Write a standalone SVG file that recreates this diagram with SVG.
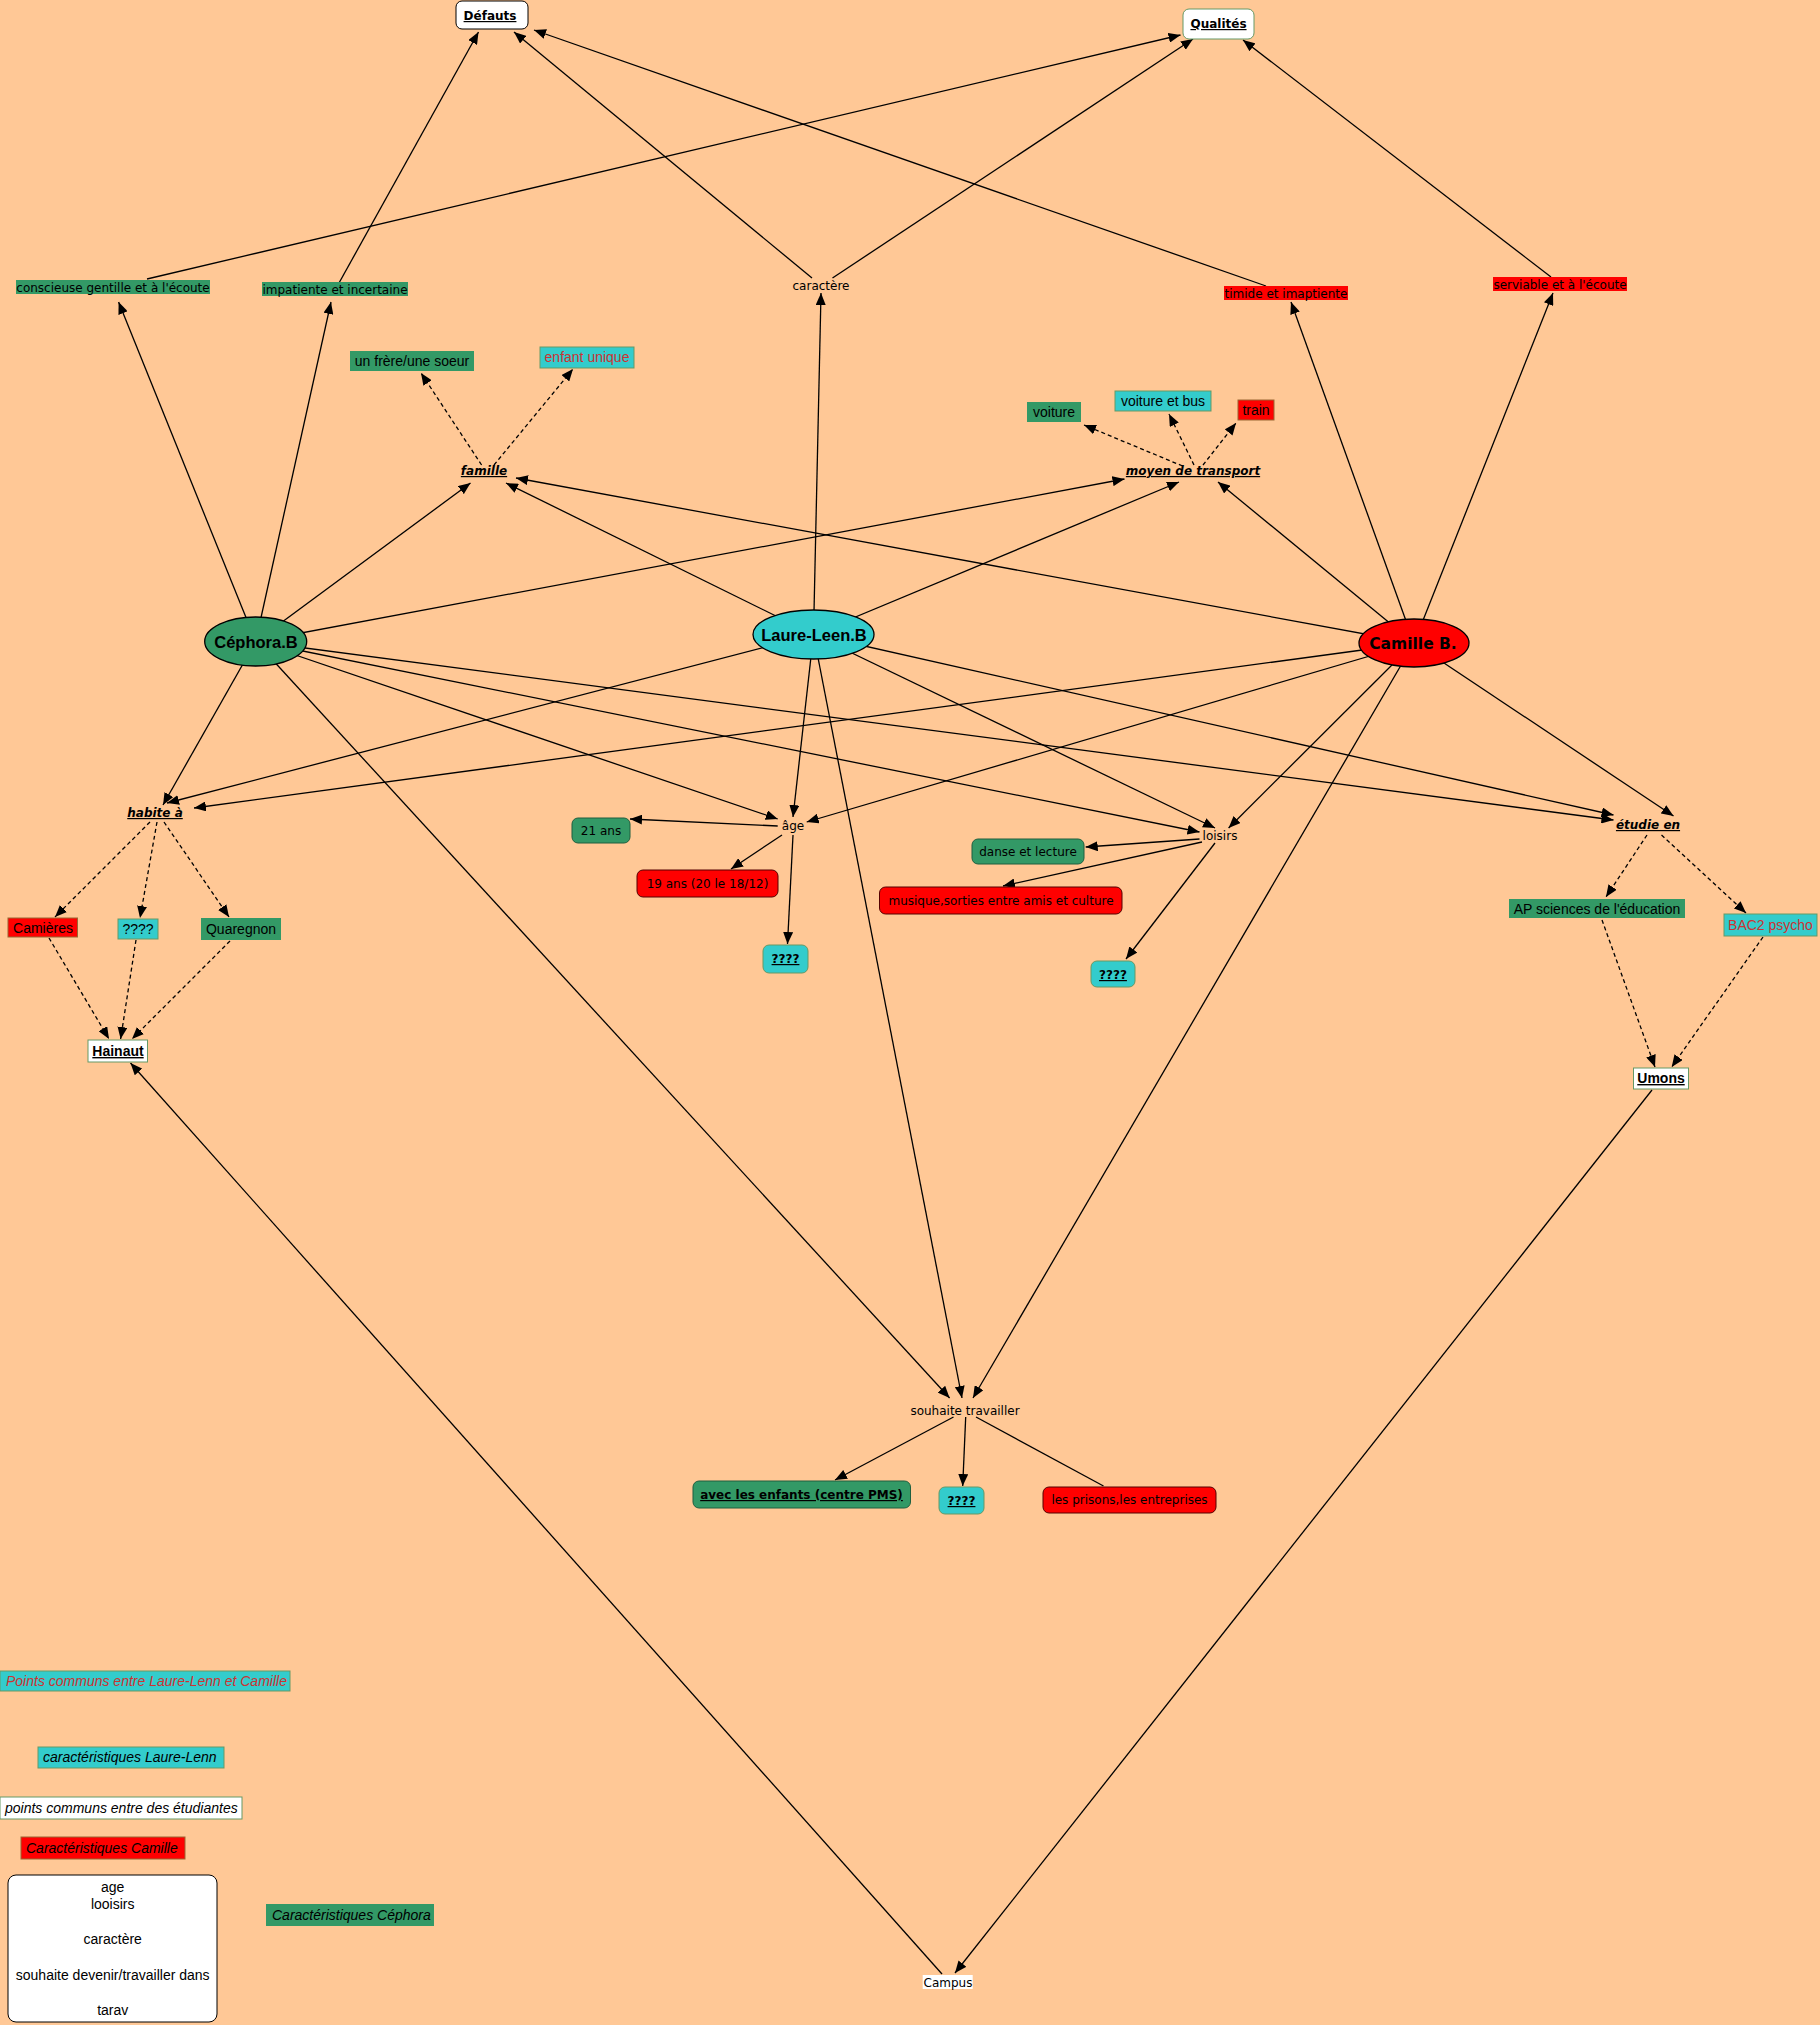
<svg xmlns="http://www.w3.org/2000/svg" width="1820" height="2025" viewBox="0 0 1820 2025">
<style>
.ln{stroke:#000;stroke-width:1.3;fill:none}
.ar{marker-end:url(#ah)}
.da{stroke-dasharray:4,3}
.v{font-family:"DejaVu Sans",Verdana,sans-serif;font-size:12px;fill:#000;text-anchor:middle}
.vb{font-family:"DejaVu Sans",Verdana,sans-serif;font-size:12px;font-weight:bold;fill:#000;text-anchor:middle;text-decoration:underline}
.vbi{font-family:"DejaVu Sans",Verdana,sans-serif;font-size:12px;font-weight:bold;font-style:italic;fill:#000;text-anchor:middle;text-decoration:underline}
.a{font-family:"Liberation Sans",Arial,sans-serif;font-size:14px;fill:#000;text-anchor:middle}
.ab{font-family:"Liberation Sans",Arial,sans-serif;font-size:14px;font-weight:bold;fill:#000;text-anchor:middle;text-decoration:underline}
.ai{font-family:"Liberation Sans",Arial,sans-serif;font-size:14px;font-style:italic;fill:#000}
.g{fill:#339966}
.c{fill:#33CCCC;stroke:#669966;stroke-width:1}
.r{fill:#FF0000}
.rb{fill:#FF0000;stroke:#996633;stroke-width:1}
.rr{fill:#FF0000;stroke:#550000;stroke-width:1}
.gr{fill:#339966;stroke:#1f5f3f;stroke-width:1}
.w{fill:#FFFFFF;stroke:#669966;stroke-width:1}
.red{fill:#CC3333}
</style>
<defs>
<marker id="ah" markerUnits="userSpaceOnUse" markerWidth="12" markerHeight="10" refX="12" refY="5" orient="auto">
<path d="M0,0 L12,5 L0,10 z" fill="#000"/>
</marker>
</defs>
<rect x="0" y="0" width="1820" height="2025" fill="#FFC896"/>

<g id="connectors">
<path class="ln ar" d="M255.7,641.5 L118.6,302"/>
<path class="ln ar" d="M255.7,641.5 L331,302"/>
<path class="ln ar" d="M255.7,641.5 L470.5,483"/>
<path class="ln ar" d="M255.7,641.5 L1124.5,479"/>
<path class="ln ar" d="M255.7,641.5 L163,805"/>
<path class="ln ar" d="M255.7,641.5 L777.7,819"/>
<path class="ln ar" d="M255.7,641.5 L1199.5,832"/>
<path class="ln ar" d="M255.7,641.5 L1613.5,820"/>
<path class="ln ar" d="M255.7,641.5 L949.6,1398"/>
<path class="ln ar" d="M813.5,634.5 L821,293"/>
<path class="ln ar" d="M813.5,634.5 L506,483"/>
<path class="ln ar" d="M813.5,634.5 L1179,482"/>
<path class="ln ar" d="M813.5,634.5 L167,803"/>
<path class="ln ar" d="M813.5,634.5 L793,817"/>
<path class="ln ar" d="M813.5,634.5 L1215,828"/>
<path class="ln ar" d="M813.5,634.5 L1613.5,815"/>
<path class="ln ar" d="M813.5,634.5 L962,1398"/>
<path class="ln ar" d="M1414,643 L1291,302"/>
<path class="ln ar" d="M1414,643 L1553,293"/>
<path class="ln ar" d="M1414,643 L1218,482"/>
<path class="ln ar" d="M1414,643 L516,478"/>
<path class="ln ar" d="M1414,643 L194,808"/>
<path class="ln ar" d="M1414,643 L806.7,822"/>
<path class="ln ar" d="M1414,643 L1228.6,828"/>
<path class="ln ar" d="M1414,643 L1673.5,816"/>
<path class="ln ar" d="M1414,643 L973,1398"/>
<path class="ln ar" d="M812,278 L514,32"/>
<path class="ln ar" d="M832.5,278 L1193,39"/>
<path class="ln ar" d="M339,283 L478.5,32"/>
<path class="ln ar" d="M147,279 L1180.5,35"/>
<path class="ln ar" d="M1266,286 L534,30"/>
<path class="ln ar" d="M1551,277 L1243,40"/>
<path class="ln ar da" d="M481.6,465 L421,373"/>
<path class="ln ar da" d="M494,465 L573,369"/>
<path class="ln ar da" d="M1182.6,466 L1084,425"/>
<path class="ln ar da" d="M1194,465 L1169,414"/>
<path class="ln ar da" d="M1203,465 L1236,423"/>
<path class="ln ar da" d="M150,822 L55,917"/>
<path class="ln ar da" d="M157,822 L140,918"/>
<path class="ln ar da" d="M164,822 L229,917"/>
<path class="ln ar da" d="M49,938 L109,1039"/>
<path class="ln ar da" d="M136,940 L120.6,1039"/>
<path class="ln ar da" d="M230,941 L132,1039"/>
<path class="ln ar da" d="M1647,835 L1606,897"/>
<path class="ln ar da" d="M1661.5,835 L1746,913"/>
<path class="ln ar da" d="M1602,920 L1655,1067"/>
<path class="ln ar da" d="M1763,937 L1671.7,1067"/>
<path class="ln ar" d="M777.7,826 L630,819"/>
<path class="ln ar" d="M782,835 L731,869"/>
<path class="ln ar" d="M793,835 L787.5,944"/>
<path class="ln ar" d="M1199.5,839 L1085.7,847"/>
<path class="ln ar" d="M1202,842 L1003,886"/>
<path class="ln ar" d="M1215,843 L1126,959"/>
<path class="ln ar" d="M953.5,1417 L835,1480"/>
<path class="ln ar" d="M965.7,1417 L962.7,1486"/>
<path class="ln" d="M976,1417 L1103.5,1486"/>
<path class="ln ar" d="M942,1974 L130.5,1063"/>
<path class="ln ar" d="M1652,1090 L955,1973"/>
</g>

<g id="n-defauts"><rect x="456" y="1" width="72" height="28" rx="6" fill="#fff" stroke="#000" stroke-width="1"/><text class="vb" x="490" y="20">Défauts</text></g>
<g id="n-qualites"><rect x="1183" y="9" width="71" height="30" rx="6" class="w"/><text class="vb" x="1218.5" y="28">Qualités</text></g>
<g id="n-conscieuse"><rect x="16" y="280" width="194" height="14" class="g"/><text class="v" x="113" y="291.5">conscieuse gentille et à l'écoute</text></g>
<g id="n-impatiente"><rect x="262" y="282" width="146" height="14" class="g"/><text class="v" x="335" y="293.5">impatiente et incertaine</text></g>
<g id="n-caractere"><text class="v" x="821" y="290">caractère</text></g>
<g id="n-timide"><rect x="1224" y="286" width="124" height="14" class="r"/><text class="v" x="1286" y="297.5">timide et imaptiente</text></g>
<g id="n-serviable"><rect x="1493" y="277" width="134" height="14" class="r"/><text class="v" x="1560" y="288.5">serviable et à l'écoute</text></g>
<g id="n-frere"><rect x="350" y="351" width="124" height="20" class="g"/><text class="a" x="412" y="366">un frère/une soeur</text></g>
<g id="n-enfant"><rect x="540" y="347" width="94" height="21" class="c"/><text class="a red" x="587" y="362">enfant unique</text></g>
<g id="n-famille"><text class="vbi" x="484" y="475">famille</text></g>
<g id="n-voiture"><rect x="1027" y="402" width="54" height="20" class="g"/><text class="a" x="1054" y="417">voiture</text></g>
<g id="n-voiturebus"><rect x="1115" y="391" width="96" height="20" class="c"/><text class="a" x="1163" y="406">voiture et bus</text></g>
<g id="n-train"><rect x="1238" y="400" width="36" height="20" class="rb"/><text class="a" x="1256" y="415">train</text></g>
<g id="n-transport"><text class="vbi" x="1193" y="475">moyen de transport</text></g>
<g id="n-cephora"><ellipse cx="255.7" cy="641.5" rx="51" ry="24.5" fill="#339966" stroke="#000" stroke-width="1.3"/><text x="256" y="647.5" font-family="Liberation Sans, Arial, sans-serif" font-size="16.5" font-weight="bold" text-anchor="middle">Céphora.B</text></g>
<g id="n-laure"><ellipse cx="813.5" cy="634.5" rx="60.5" ry="24.5" fill="#33CCCC" stroke="#000" stroke-width="1.3"/><text x="814" y="640.5" font-family="Liberation Sans, Arial, sans-serif" font-size="16.5" font-weight="bold" text-anchor="middle">Laure-Leen.B</text></g>
<g id="n-camille"><ellipse cx="1414" cy="643" rx="55" ry="24" fill="#FF0000" stroke="#000" stroke-width="1.3"/><text x="1413" y="649" font-family="DejaVu Sans, Verdana, sans-serif" font-size="15.5" font-weight="bold" text-anchor="middle">Camille B.</text></g>
<g id="n-habite"><text class="vbi" x="155" y="817">habite à</text></g>
<g id="n-age"><text class="v" x="793" y="830">âge</text></g>
<g id="n-21ans"><rect x="572" y="818" width="58" height="25" rx="6" class="gr"/><text class="v" x="601" y="835">21 ans</text></g>
<g id="n-19ans"><rect x="637" y="870" width="141" height="27" rx="6" class="rr"/><text class="v" x="707.5" y="888">19 ans (20 le 18/12)</text></g>
<g id="n-age-q"><rect x="763" y="945" width="45" height="28" rx="6" class="c"/><text class="vb" x="785.5" y="963">????</text></g>
<g id="n-loisirs"><text class="v" x="1220" y="840">loisirs</text></g>
<g id="n-danse"><rect x="972" y="839" width="112" height="25" rx="6" class="gr"/><text class="v" x="1028" y="856">danse et lecture</text></g>
<g id="n-musique"><rect x="879.5" y="887" width="242.5" height="27" rx="6" class="rr"/><text class="v" x="1001" y="905">musique,sorties entre amis et culture</text></g>
<g id="n-loisirs-q"><rect x="1091" y="961" width="44" height="26" rx="6" class="c"/><text class="vb" x="1113" y="979">????</text></g>
<g id="n-etudie"><text class="vbi" x="1648" y="829">étudie en</text></g>
<g id="n-ap"><rect x="1509" y="899" width="176" height="19" class="g"/><text class="a" x="1597" y="914">AP sciences de l'éducation</text></g>
<g id="n-bac2"><rect x="1724" y="914" width="93" height="22" class="c"/><text class="a red" x="1770.5" y="930">BAC2 psycho</text></g>
<g id="n-umons"><rect x="1633.5" y="1068" width="55" height="21" class="w"/><text class="ab" x="1661" y="1083">Umons</text></g>
<g id="n-camieres"><rect x="8" y="918" width="69.5" height="19" class="rb"/><text class="a" x="43" y="933">Camières</text></g>
<g id="n-habite-q"><rect x="118" y="919" width="40" height="20" class="c"/><text class="a" x="138" y="934">????</text></g>
<g id="n-quaregnon"><rect x="201" y="918" width="80" height="22" class="g"/><text class="a" x="241" y="934">Quaregnon</text></g>
<g id="n-hainaut"><rect x="88" y="1040" width="59.5" height="22" class="w"/><text class="ab" x="118" y="1056">Hainaut</text></g>
<g id="n-souhaite"><text class="v" x="965" y="1415">souhaite travailler</text></g>
<g id="n-enfants"><rect x="693" y="1481" width="217.5" height="27" rx="6" class="gr"/><text class="vb" x="801.5" y="1499">avec les enfants (centre PMS)</text></g>
<g id="n-souhaite-q"><rect x="939" y="1487" width="45" height="27" rx="6" class="c"/><text class="vb" x="961.5" y="1505">????</text></g>
<g id="n-prisons"><rect x="1043" y="1487" width="173" height="26" rx="6" class="rr"/><text class="v" x="1129.5" y="1504">les prisons,les entreprises</text></g>
<g id="n-campus"><rect x="922.7" y="1975" width="50" height="14" fill="#fff"/><text class="v" x="948" y="1986.5">Campus</text></g>

<g id="legend-1"><rect x="0" y="1671" width="290" height="20" class="c"/><text class="ai red" x="6" y="1686">Points communs entre Laure-Lenn et Camille</text></g>
<g id="legend-2"><rect x="38" y="1747" width="186" height="21" class="c"/><text class="ai" x="43" y="1762">caractéristiques Laure-Lenn</text></g>
<g id="legend-3"><rect x="0" y="1797" width="242" height="22" class="w"/><text class="ai" x="5" y="1813">points communs entre des étudiantes</text></g>
<g id="legend-4"><rect x="21" y="1837" width="164" height="22" class="rb"/><text class="ai" x="26" y="1853">Caractéristiques Camille</text></g>
<g id="legend-5"><rect x="8" y="1875" width="209" height="147" rx="8" fill="#fff" stroke="#000" stroke-width="1"/>
<text class="a" x="112.7" y="1892">age</text>
<text class="a" x="112.7" y="1909">looisirs</text>
<text class="a" x="112.7" y="1944">caractère</text>
<text class="a" x="112.7" y="1980">souhaite devenir/travailler dans</text>
<text class="a" x="112.7" y="2015">tarav</text></g>
<g id="legend-6"><rect x="266" y="1904" width="168" height="22" class="g"/><text class="ai" x="272" y="1920">Caractéristiques Céphora</text></g>
</svg>
